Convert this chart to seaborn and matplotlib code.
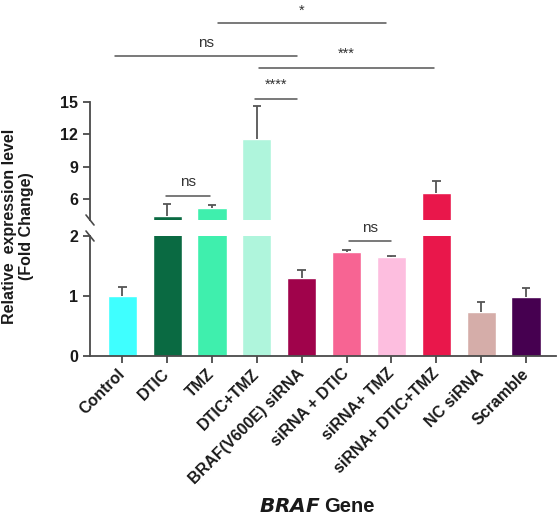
import matplotlib
matplotlib.use("Agg")
import matplotlib.pyplot as plt
import seaborn as sns
import pandas as pd
import numpy as np
from matplotlib.lines import Line2D

categories = ["Control", "DTIC", "TMZ", "DTIC+TMZ", "BRAF(V600E) siRNA",
              "siRNA + DTIC", "siRNA+ TMZ", "siRNA+ DTIC+TMZ", "NC siRNA", "Scramble"]
means = [1.00, 4.43, 5.17, 11.56, 1.30, 1.74, 1.65, 6.58, 0.74, 0.99]
errors = [0.15, 1.07, 0.27, 3.04, 0.13, 0.03, 0.02, 1.06, 0.165, 0.15]
colors = ["#3FFFFF", "#0A6A42", "#3FEFAD", "#AFF5DC", "#A0034B",
          "#F76493", "#FDBEDF", "#E9174B", "#D5ADA9", "#460050"]
lower_ticks = [0, 1, 2]
upper_ticks = [6, 9, 12, 15]

sns.set_style("ticks")
plt.rcParams["font.family"] = ["Liberation Sans", "DejaVu Sans"]
plt.rcParams["font.weight"] = "bold"

df = pd.DataFrame({"group": categories, "value": means})
pal = dict(zip(categories, colors))

W, H = 559, 517
fig = plt.figure(figsize=(W / 100, H / 100), dpi=100)

def rect(x0, y0, x1, y1):
    return [x0 / W, 1 - y1 / H, (x1 - x0) / W, (y1 - y0) / H]

ax_lo = fig.add_axes(rect(90, 236, 556, 356))
ax_hi = fig.add_axes(rect(90, 102, 556, 220))

spine_c = "#4a4a4a"
err_c = "#555555"
xs = np.arange(len(categories))
tops = np.array(means) + np.array(errors)
for ax in (ax_lo, ax_hi):
    sns.barplot(data=df, x="group", y="value", hue="group", palette=pal,
                order=categories, hue_order=categories, legend=False,
                width=0.65, saturation=1, errorbar=None, ax=ax, zorder=2)
    ax.vlines(xs, means, tops, colors=err_c, lw=1.3, zorder=3)
    ax.hlines(tops, xs - 0.095, xs + 0.095, colors=err_c, lw=1.3, zorder=3)
    ax.set_xlim(-0.72, 9.67)
    ax.set_xlabel("")
    ax.set_ylabel("")
    for s in ("top", "right"):
        ax.spines[s].set_visible(False)
    for s in ("left", "bottom"):
        ax.spines[s].set_color(spine_c)
        ax.spines[s].set_linewidth(1.3)
    ax.tick_params(axis="both", colors=spine_c, width=1.3, length=5,
                   labelcolor="#1a1a1a", labelsize=11.5)
    ax.patch.set_alpha(0)

ax_lo.set_ylim(0, 2)
ax_lo.set_yticks(lower_ticks)
ax_hi.set_ylim(4.05, 15)
ax_hi.set_yticks(upper_ticks)
ax_hi.spines["bottom"].set_visible(False)
ax_hi.tick_params(axis="x", bottom=False, labelbottom=False)

ax_lo.set_xticks(range(len(categories)))
ax_lo.set_xticklabels(categories, rotation=45, ha="right", va="center",
                      rotation_mode="anchor", fontsize=11.5, fontweight="bold")
ax_lo.tick_params(axis="x", pad=6)
for lab in ax_lo.get_yticklabels() + ax_hi.get_yticklabels():
    lab.set_fontweight("bold")

# axis break marks
for ax, yf in ((ax_hi, 0.0), (ax_lo, 1.0)):
    dx, dy = 4 / 466, 5 / (118 if ax is ax_hi else 120)
    ax.add_line(Line2D([-dx, dx], [yf + dy, yf - dy], transform=ax.transAxes,
                       color=spine_c, lw=1.2, clip_on=False))

fig.text(18 / W, (517 - 226) / 517, "Relative  expression level\n(Fold Change)",
         rotation=90, ha="center", va="center", fontsize=11.5, fontweight="bold",
         linespacing=1.15, multialignment="center", color="#1a1a1a")

fig.text(321 / W, 1 - 507 / H, r"$\bf\it{BRAF}$", ha="right", va="center",
         fontsize=14.5, color="#1a1a1a")
fig.text(324 / W, 1 - 507 / H, "Gene", ha="left", va="center",
         fontsize=14.5, fontweight="bold", color="#1a1a1a")

line_c = "#555555"
def bracket(ax, x0, x1, y, text, ty, fs):
    ax.plot([x0, x1], [y, y], color=line_c, lw=1.1, clip_on=False)
    ax.text((x0 + x1) / 2, ty, text, ha="center", va="baseline",
            fontsize=fs, fontweight="normal", color="#333333", clip_on=False)

bracket(ax_hi, 2.13, 5.87, 22.33, "*", 23.1, 10.5)
bracket(ax_hi, -0.16, 3.89, 19.27, "ns", 20.15, 11)
bracket(ax_hi, 3.04, 6.96, 18.15, "***", 19.13, 10.5)
bracket(ax_hi, 2.95, 3.89, 15.28, "****", 16.25, 10.5)
bracket(ax_hi, 0.97, 1.96, 6.25, "ns", 7.16, 11)
bracket(ax_lo, 5.05, 6.0, 1.91, "ns", 2.06, 11)

fig.savefig("out.png", dpi=100)
